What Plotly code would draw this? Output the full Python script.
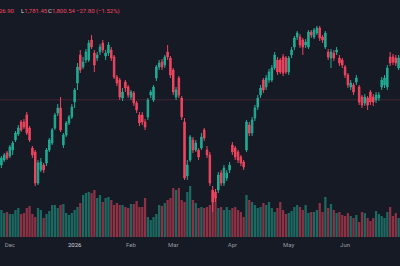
import plotly.graph_objects as go

# ---- data (daily OHLC + volume, Dec 2025 - Jun 2026) ----
opens = [1605, 1620, 1641, 1632, 1650, 1680, 1698, 1734, 1734, 1755,
         1716, 1656, 1644, 1551, 1590, 1605, 1611, 1650, 1671, 1716,
         1761, 1776, 1665, 1695, 1731, 1749, 1794, 1851, 1935, 1899,
         1920, 1920, 1980, 1941, 1926, 1944, 1971, 1932, 1941, 1950,
         1929, 1869, 1860, 1806, 1854, 1839, 1809, 1821, 1791, 1755,
         1755, 1734, 1749, 1815, 1800, 1866, 1899, 1914, 1905, 1944,
         1926, 1890, 1809, 1866, 1806, 1734, 1572, 1620, 1680, 1650,
         1650, 1656, 1710, 1650, 1635, 1530, 1524, 1530, 1581, 1551,
         1566, 1590, 1665, 1656, 1644, 1629, 1614, 1650, 1725, 1701,
         1746, 1779, 1815, 1860, 1839, 1860, 1860, 1896, 1920, 1920,
         1929, 1926, 1884, 1935, 1959, 1989, 1989, 1980, 1965, 1959,
         2004, 1989, 2001, 2016, 1989, 1959, 1944, 1926, 1941, 1944,
         1926, 1920, 1899, 1875, 1839, 1845, 1854, 1839, 1809, 1791,
         1806, 1824, 1809, 1800, 1806, 1839, 1845, 1839, 1929, 1929,
         1926, 1896]
highs = [1632, 1641, 1647, 1665, 1677, 1707, 1725, 1740, 1743, 1764,
         1722, 1662, 1650, 1620, 1626, 1611, 1656, 1686, 1716, 1761,
         1788, 1809, 1701, 1737, 1755, 1788, 1836, 1911, 1950, 1929,
         1953, 1980, 1995, 1950, 1944, 1968, 1980, 1950, 1974, 1959,
         1935, 1875, 1866, 1836, 1860, 1845, 1830, 1827, 1797, 1764,
         1764, 1743, 1806, 1830, 1845, 1905, 1920, 1923, 1935, 1965,
         1932, 1896, 1839, 1872, 1812, 1746, 1620, 1695, 1689, 1680,
         1656, 1701, 1716, 1662, 1644, 1542, 1533, 1584, 1590, 1605,
         1590, 1614, 1674, 1662, 1650, 1635, 1620, 1740, 1734, 1749,
         1785, 1815, 1845, 1866, 1875, 1893, 1905, 1944, 1929, 1926,
         1938, 1932, 1932, 1959, 1992, 2007, 1998, 1986, 1983, 2010,
         2010, 2016, 2022, 2022, 1995, 2007, 1953, 1953, 1950, 1959,
         1935, 1926, 1905, 1881, 1860, 1851, 1875, 1845, 1815, 1818,
         1812, 1830, 1818, 1824, 1824, 1869, 1875, 1905, 1944, 1938,
         1935, 1935]
lows = [1596, 1614, 1620, 1626, 1635, 1674, 1692, 1704, 1713, 1695,
        1674, 1626, 1542, 1545, 1584, 1581, 1602, 1644, 1665, 1710,
        1752, 1704, 1656, 1689, 1725, 1743, 1776, 1830, 1881, 1893,
        1911, 1914, 1953, 1884, 1917, 1935, 1941, 1920, 1932, 1917,
        1863, 1842, 1800, 1797, 1824, 1806, 1800, 1782, 1761, 1722,
        1725, 1710, 1740, 1806, 1794, 1857, 1890, 1890, 1896, 1920,
        1866, 1815, 1800, 1806, 1740, 1560, 1560, 1614, 1641, 1644,
        1620, 1650, 1677, 1626, 1542, 1464, 1494, 1521, 1542, 1542,
        1557, 1581, 1635, 1620, 1611, 1602, 1590, 1644, 1692, 1692,
        1737, 1770, 1806, 1821, 1830, 1851, 1854, 1890, 1875, 1878,
        1872, 1878, 1875, 1926, 1950, 1980, 1956, 1935, 1956, 1953,
        1986, 1983, 1995, 1977, 1971, 1953, 1920, 1896, 1917, 1935,
        1902, 1896, 1866, 1836, 1830, 1815, 1845, 1785, 1776, 1782,
        1770, 1785, 1782, 1791, 1797, 1830, 1836, 1830, 1902, 1905,
        1902, 1890]
closes = [1626, 1635, 1626, 1659, 1671, 1701, 1716, 1710, 1719, 1701,
          1680, 1635, 1551, 1611, 1614, 1590, 1650, 1680, 1710, 1755,
          1776, 1710, 1695, 1731, 1749, 1779, 1830, 1899, 1890, 1914,
          1944, 1971, 1959, 1905, 1935, 1959, 1950, 1941, 1965, 1926,
          1869, 1851, 1809, 1824, 1836, 1815, 1824, 1791, 1770, 1731,
          1734, 1719, 1800, 1824, 1839, 1899, 1911, 1899, 1929, 1929,
          1875, 1824, 1830, 1815, 1749, 1566, 1605, 1689, 1650, 1671,
          1629, 1689, 1686, 1635, 1551, 1494, 1506, 1575, 1551, 1596,
          1581, 1605, 1644, 1629, 1620, 1611, 1599, 1734, 1701, 1740,
          1776, 1806, 1836, 1830, 1866, 1884, 1896, 1935, 1884, 1884,
          1881, 1884, 1926, 1950, 1986, 2001, 1965, 1959, 1974, 2004,
          1995, 2010, 2016, 1986, 1980, 2001, 1929, 1944, 1926, 1950,
          1911, 1905, 1875, 1845, 1851, 1824, 1866, 1794, 1785, 1809,
          1785, 1794, 1794, 1815, 1815, 1860, 1866, 1896, 1911, 1914,
          1911, 1926]
volumes = [1080, 960, 1000, 920, 920, 1080, 1160, 920, 960, 1160,
           1240, 920, 800, 1160, 1080, 760, 920, 1040, 1280, 1280,
           1160, 1280, 1320, 960, 880, 960, 1080, 1200, 1360, 1680,
           1760, 1800, 1760, 1880, 1560, 1680, 1400, 1560, 1600, 1480,
           1280, 1360, 1280, 1280, 1200, 1160, 1320, 1320, 1440, 1200,
           1200, 1560, 800, 680, 800, 920, 1280, 1240, 1360, 1480,
           1560, 1960, 1880, 1960, 1480, 1400, 1800, 2040, 1480, 1360,
           1160, 1200, 1160, 1200, 1280, 1880, 1600, 1160, 1200, 1080,
           1200, 1080, 1160, 1200, 1080, 1000, 800, 1680, 1480, 1400,
           1280, 1160, 1200, 1360, 1280, 1400, 1160, 1000, 1160, 1400,
           1080, 920, 960, 1040, 1200, 1280, 1200, 1080, 1280, 960,
           1000, 1000, 1080, 1360, 1000, 1600, 1160, 1320, 1080, 960,
           1000, 880, 840, 960, 840, 760, 880, 600, 1000, 960,
           760, 640, 760, 1040, 920, 840, 760, 1000, 1200, 840,
           960, 760]
tick_pos = [3, 26, 46, 61, 82, 102, 122]
tick_text = ["Dec", "<span style='color:#d1d4dc'>2026</span>", "Feb", "Mar", "Apr", "May", "Jun"]
last_price = 1800.54
header_high = "1,826.90"
header_low = "1,781.45"
header_close = "1,800.54"
header_change = "\u221227.80 (\u22121.52%)"

UP = "#22ab94"
DOWN = "#f0455f"
UP_VOL = "rgba(34,171,148,0.55)"
DOWN_VOL = "rgba(240,69,95,0.55)"
BG = "#161a25"

idx = list(range(len(opens)))
vol_colors = [UP_VOL if c >= o else DOWN_VOL for o, c in zip(opens, closes)]

fig = go.Figure()
fig.add_trace(go.Bar(x=idx, y=volumes, marker_color=vol_colors, marker_line_width=0,
                     yaxis="y2", hoverinfo="skip"))
fig.add_trace(go.Candlestick(
    x=idx, open=opens, high=highs, low=lows, close=closes,
    increasing=dict(line=dict(color=UP, width=1), fillcolor=UP),
    decreasing=dict(line=dict(color=DOWN, width=1), fillcolor=DOWN),
    whiskerwidth=0, yaxis="y"))

fig.add_shape(type="line", xref="paper", x0=0, x1=1, yref="y", y0=last_price, y1=last_price,
              line=dict(color="rgba(240,69,95,0.22)", width=1), layer="below")

fnt = "Roboto, Arial, sans-serif"
def ann(x, text, anchor):
    fig.add_annotation(xref="paper", yref="paper", x=x / 400, y=1 - 11 / 237, text=text,
                       showarrow=False, xanchor=anchor, yanchor="middle",
                       font=dict(family=fnt, size=6, color=DOWN))

ann(17, header_high, "right")
ann(19, "<span style='color:#d1d4dc'>L</span>" + header_low, "left")
ann(46, "<span style='color:#d1d4dc'>C</span>" + header_close, "left")
ann(74, header_change, "left")

fig.update_layout(
    width=400, height=266,
    margin=dict(l=0, r=0, t=0, b=29),
    paper_bgcolor=BG, plot_bgcolor=BG,
    showlegend=False, bargap=0.2, boxgap=0.25,
    xaxis=dict(range=[-0.5, len(opens) - 0.5], rangeslider=dict(visible=False),
               showgrid=False, zeroline=False, showline=False,
               tickmode="array", tickvals=tick_pos, ticktext=tick_text,
               tickfont=dict(family=fnt, size=6, color="#9598a1"), ticks="",
               ticklabelstandoff=3),
    yaxis=dict(range=[1389, 2100], visible=False, showgrid=False, fixedrange=True),
    yaxis2=dict(range=[0, 9480], overlaying="y", visible=False, showgrid=False),
)

fig.write_html("out.html")
